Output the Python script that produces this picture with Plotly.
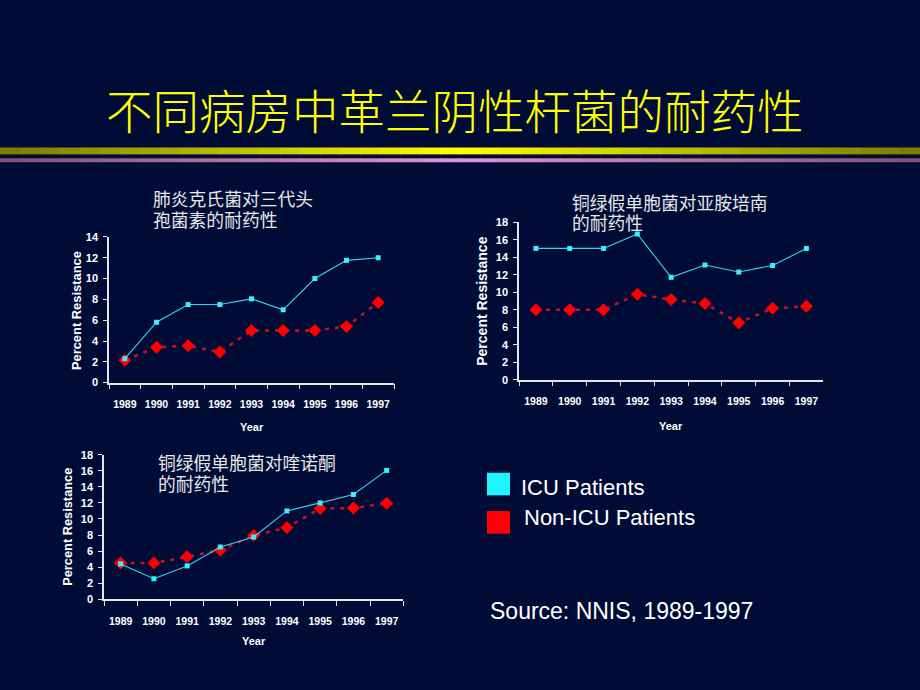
import plotly.graph_objects as go

# ---------------- data ----------------
years = ["1989", "1990", "1991", "1992", "1993", "1994", "1995", "1996", "1997"]

# Chart 1: 肺炎克氏菌对三代头孢菌素的耐药性
c1_icu = [2.3, 5.8, 7.5, 7.5, 8.05, 7.0, 10.0, 11.75, 12.0]
c1_non = [2.15, 3.4, 3.55, 2.95, 5.0, 5.0, 5.0, 5.4, 7.7]

# Chart 2: 铜绿假单胞菌对亚胺培南的耐药性
c2_icu = [15.0, 15.0, 15.0, 16.65, 11.7, 13.1, 12.3, 13.05, 15.0]
c2_non = [8.0, 8.0, 8.0, 9.75, 9.15, 8.7, 6.5, 8.15, 8.4]

# Chart 3: 铜绿假单胞菌对喹诺酮的耐药性
c3_icu = [4.4, 2.55, 4.15, 6.5, 7.75, 11.0, 12.0, 13.05, 16.05]
c3_non = [4.5, 4.5, 5.3, 6.1, 7.95, 8.95, 11.3, 11.35, 11.95]

title_text = "不同病房中革兰阴性杆菌的耐药性"
sub1 = ["肺炎克氏菌对三代头", "孢菌素的耐药性"]
sub2 = ["铜绿假单胞菌对亚胺培南", "的耐药性"]
sub3 = ["铜绿假单胞菌对喹诺酮", "的耐药性"]
legend_labels = ["ICU Patients", "Non-ICU Patients"]
source_text = "Source: NNIS, 1989-1997"
x_title = "Year"
y_title = "Percent Resistance"
y_max = [14, 18, 18]

# ---------------- styles ----------------
W, H = 920, 690
BG = "#000c36"
ICU_LINE = "#3ad2ee"
ICU_MARK = "#33f2ff"
NON_LINE = "#c4122a"
NON_MARK = "#ff0000"
AXIS_COL = "#e6e6e6"
TXT = "#ffffff"
SUB_COL = "#e8e8e8"
LAT = "Liberation Sans, Arial, sans-serif"
NAR = "Liberation Sans Narrow, Arial Narrow, Liberation Sans, sans-serif"
CJK = "Noto Sans CJK SC, sans-serif"


def px(x):
    return x / W


def py(y):
    return 1 - y / H


# plot boxes (left, right, top, bottom) in pixels
boxes = [
    (109, 394, 235, 383.3),
    (519, 823.3, 220, 380.3),
    (104, 403.3, 456.7, 603.7),
]

fig = go.Figure()

series = [(c1_icu, c1_non), (c2_icu, c2_non), (c3_icu, c3_non)]
for i, (icu, non) in enumerate(series):
    xa = "x" if i == 0 else f"x{i+1}"
    ya = "y" if i == 0 else f"y{i+1}"
    fig.add_trace(go.Scatter(
        x=years, y=non, xaxis=xa, yaxis=ya, mode="lines+markers",
        line=dict(color=NON_LINE, width=2.5, dash="4px,6px"),
        marker=dict(symbol="diamond", size=10, color=NON_MARK),
        cliponaxis=False, showlegend=False, name=legend_labels[1]))
    fig.add_trace(go.Scatter(
        x=years, y=icu, xaxis=xa, yaxis=ya, mode="lines+markers",
        line=dict(color=ICU_LINE, width=1.1),
        marker=dict(symbol="square", size=5, color=ICU_MARK),
        cliponaxis=False, showlegend=False, name=legend_labels[0]))

layout = dict(
    width=W, height=H, margin=dict(l=0, r=0, t=0, b=0),
    paper_bgcolor=BG, plot_bgcolor=BG, showlegend=False,
)

for i, (l, r, t, b) in enumerate(boxes):
    sx = "" if i == 0 else str(i + 1)
    layout[f"xaxis{sx}"] = dict(
        domain=[px(l), px(r)], anchor=f"y{sx}", type="category",
        range=[-0.5, 8.5], showgrid=False, zeroline=False,
        showline=True, linecolor=AXIS_COL, linewidth=1.5,
        ticks="outside", tickson="boundaries", ticklen=5, tickwidth=1.2,
        tickcolor=AXIS_COL, ticklabelstandoff=11, tickangle=0,
        tickfont=dict(family=LAT, size=10.5, color=TXT, weight="bold"),
        fixedrange=True)
    layout[f"yaxis{sx}"] = dict(
        domain=[py(b), py(t)], anchor=f"x{sx}", range=[0, y_max[i]],
        dtick=2, showgrid=False, zeroline=False,
        showline=True, linecolor=AXIS_COL, linewidth=1.5,
        ticks="outside", ticklen=4, tickwidth=1.2, tickcolor=AXIS_COL,
        ticklabelstandoff=3,
        tickfont=dict(family=LAT, size=11, color=TXT, weight="bold"),
        fixedrange=True)

fig.update_layout(**layout)

ann = []
# title
ann.append(dict(x=px(455), y=py(104), xref="paper", yref="paper",
                text=title_text, showarrow=False, xanchor="center", yanchor="middle",
                font=dict(family=CJK, size=46.5, color="#ffff00", weight=300)))

# subtitles (each line placed separately)
subs = [(sub1, 151, [195, 216.5]), (sub2, 570, [199.5, 220]), (sub3, 156, [464.5, 485])]
for lines, lx, ys in subs:
    for txt, yy in zip(lines, ys):
        ann.append(dict(x=px(lx), y=py(yy), xref="paper", yref="paper", text=txt,
                        showarrow=False, xanchor="left", yanchor="middle",
                        font=dict(family=CJK, size=17.8, color=SUB_COL)))

# axis titles
xt_pos = [(251.7, 428), (671, 427), (254, 646.5)]
yt_pos = [(76, 310.5, 12.9), (482, 301, 14), (68, 530, 12.8)]
for (xx, yy) in xt_pos:
    ann.append(dict(x=px(xx), y=py(yy), xref="paper", yref="paper", text=x_title,
                    showarrow=False, xanchor="center", yanchor="middle",
                    font=dict(family=LAT, size=11, color=TXT, weight="bold")))
for (xx, yy, fs) in yt_pos:
    ann.append(dict(x=px(xx), y=py(yy), xref="paper", yref="paper", text=y_title,
                    showarrow=False, xanchor="center", yanchor="middle", textangle=-90,
                    font=dict(family=NAR, size=fs, color=TXT, weight="bold")))

# legend text
ann.append(dict(x=px(519), y=py(490), xref="paper", yref="paper", text=legend_labels[0],
                showarrow=False, xanchor="left", yanchor="middle",
                font=dict(family=LAT, size=22, color=TXT)))
ann.append(dict(x=px(522), y=py(520.5), xref="paper", yref="paper", text=legend_labels[1],
                showarrow=False, xanchor="left", yanchor="middle",
                font=dict(family=LAT, size=22, color=TXT)))
# source
ann.append(dict(x=px(488), y=py(616), xref="paper", yref="paper", text=source_text,
                showarrow=False, xanchor="left", yanchor="middle",
                font=dict(family=LAT, size=23, color=TXT)))

shapes = []
# legend squares
shapes.append(dict(type="rect", xref="paper", yref="paper",
                   x0=px(487), x1=px(510), y0=py(498), y1=py(475),
                   fillcolor="#1ff5ff", line=dict(width=0)))
shapes.append(dict(type="rect", xref="paper", yref="paper",
                   x0=px(487), x1=px(510), y0=py(537), y1=py(514),
                   fillcolor="#ff0000", line=dict(width=0)))

# gradient bands under the title
N = 46
def mix(c0, c1, t):
    return "rgb(%d,%d,%d)" % tuple(round(a + (b - a) * t) for a, b in zip(c0, c1))

for k in range(N):
    x0 = W * k / N
    x1 = W * (k + 1) / N + 0.6
    t = 1 - abs(((k + 0.5) / N) - 0.5) * 2
    shapes.append(dict(type="rect", xref="paper", yref="paper",
                       x0=px(x0), x1=px(min(x1, W)), y0=py(151), y1=py(144),
                       fillcolor=mix((122, 122, 0), (255, 255, 0), t),
                       line=dict(width=0), layer="below"))
    shapes.append(dict(type="rect", xref="paper", yref="paper",
                       x0=px(x0), x1=px(min(x1, W)), y0=py(159), y1=py(155),
                       fillcolor=mix((125, 82, 120), (226, 150, 212), t),
                       line=dict(width=0), layer="below"))

fig.update_layout(annotations=ann, shapes=shapes)
fig.write_html("out.html", config={"displayModeBar": False},
               post_script="document.body.style.margin='0';document.body.style.padding='0';"
                           "document.body.style.overflow='hidden';")
